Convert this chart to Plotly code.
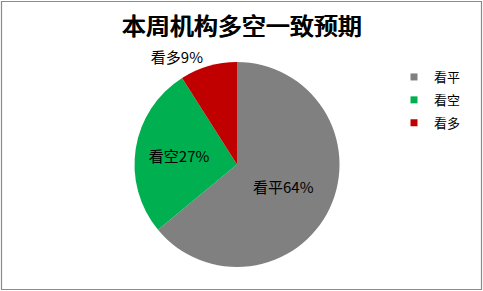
import plotly.graph_objects as go

labels = ["看平", "看空", "看多"]
values = [64, 27, 9]
colors = ["#808080", "#00B050", "#C00000"]
title_text = "本周机构多空一致预期"

W, H = 483, 291
mt, mb = 62, 24
ph = H - mt - mb
FONT = "Noto Sans CJK SC"

fig = go.Figure()
fig.add_trace(go.Pie(
    labels=labels, values=values, sort=False, direction="clockwise", rotation=0,
    marker=dict(colors=colors, line=dict(width=0)),
    texttemplate="%{label}%{percent:.0%}",
    textposition=["inside", "inside", "outside"],
    insidetextorientation="horizontal",
    textfont=dict(color="black", size=15, family=FONT),
    outsidetextfont=dict(color="black", size=15, family=FONT),
    domain=dict(x=[0, 474 / 483], y=[0, 1]),
    hoverinfo="skip", showlegend=False,
))
# legend entries (square swatches)
for lab, col in zip(labels, colors):
    fig.add_trace(go.Scatter(
        x=[None], y=[None], mode="markers", name=lab, legendgroup=lab,
        marker=dict(symbol="square", size=7, color=col), hoverinfo="skip",
    ))

fig.update_layout(
    width=W, height=H,
    margin=dict(l=0, r=0, t=mt, b=mb, autoexpand=False),
    paper_bgcolor="white", plot_bgcolor="rgba(0,0,0,0)",
    xaxis=dict(visible=False), yaxis=dict(visible=False),
    title=dict(text=title_text, x=0.5, xanchor="center", y=1 - 27 / H, yanchor="middle",
               font=dict(size=24, color="black", family=FONT, weight=500,
                         shadow="0.8px 0px 0px black")),
    legend=dict(xref="container", yref="container", x=394 / W, y=1 - 62 / H,
                xanchor="left", yanchor="top",
                font=dict(size=13, color="black", family=FONT),
                itemwidth=30, tracegroupgap=3, bgcolor="rgba(0,0,0,0)"),
    shapes=[dict(type="rect", xref="paper", yref="paper",
                 x0=1.5 / W, x1=(W - 1.5) / W,
                 y0=(267 - (H - 1.5)) / ph, y1=(267 - 1.5) / ph,
                 line=dict(color="#8a8a8a", width=1.2), fillcolor="rgba(0,0,0,0)")],
)

fig.write_html("out.html")
